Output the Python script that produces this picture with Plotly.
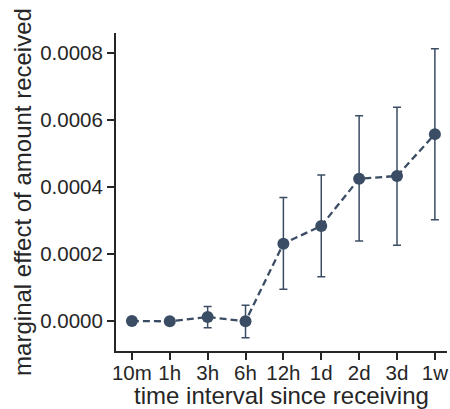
import plotly.graph_objects as go

categories = ["10m", "1h", "3h", "6h", "12h", "1d", "2d", "3d", "1w"]
effect = [0.0, -0.000001, 0.000012, -0.000001, 0.000231, 0.000284, 0.000425, 0.000433, 0.000558]
ci_low = [-0.000002, -0.000003, -0.000020, -0.000050, 0.000095, 0.000132, 0.000239, 0.000226, 0.000302]
ci_high = [0.000002, 0.000001, 0.000043, 0.000047, 0.000369, 0.000436, 0.000613, 0.000638, 0.000813]
y_ticks = [0.0, 0.0002, 0.0004, 0.0006, 0.0008]
y_tick_labels = ["0.0000", "0.0002", "0.0004", "0.0006", "0.0008"]

err_plus = [h - e for h, e in zip(ci_high, effect)]
err_minus = [e - l for e, l in zip(effect, ci_low)]

color = "#3b4d64"

fig = go.Figure()
fig.add_trace(go.Scatter(
    x=list(range(len(categories))),
    y=effect,
    mode="lines+markers",
    line=dict(color=color, width=2.3, dash="7px,4px"),
    marker=dict(color=color, size=12),
    error_y=dict(type="data", symmetric=False, array=err_plus, arrayminus=err_minus,
                 color=color, thickness=1.5, width=4),
    showlegend=False,
    cliponaxis=False,
))

font_family = "Liberation Sans, Arial, sans-serif"
fig.update_layout(
    width=450, height=409,
    margin=dict(l=116, r=3, t=33, b=58, autoexpand=False),
    plot_bgcolor="white", paper_bgcolor="white",
    font=dict(family=font_family, size=20.5, color="#262626"),
)
fig.update_xaxes(
    range=[-0.42, 8.32], automargin=False,
    tickmode="array", tickvals=list(range(len(categories))), ticktext=categories,
    showline=True, linecolor="#262626", linewidth=2,
    ticks="outside", ticklen=7, tickwidth=1.5, tickcolor="#262626",
    ticklabelstandoff=-5,
    showgrid=False, zeroline=False,
    title=dict(text="time interval since receiving", font=dict(size=24), standoff=0),
    tickfont=dict(size=20.5),
)
fig.update_yaxes(
    range=[-0.0000896, 0.00086], automargin=False,
    tickmode="array", tickvals=y_ticks, ticktext=y_tick_labels,
    showline=True, linecolor="#262626", linewidth=2,
    ticks="outside", ticklen=7, tickwidth=1.5, tickcolor="#262626",
    showgrid=False, zeroline=False,
    title=dict(text="marginal effect of amount received", font=dict(size=24), standoff=2),
    tickfont=dict(size=20.5),
)

fig.write_html("out.html", config={"displayModeBar": False},
               post_script="document.body.style.margin='0';document.body.style.overflow='hidden';")
